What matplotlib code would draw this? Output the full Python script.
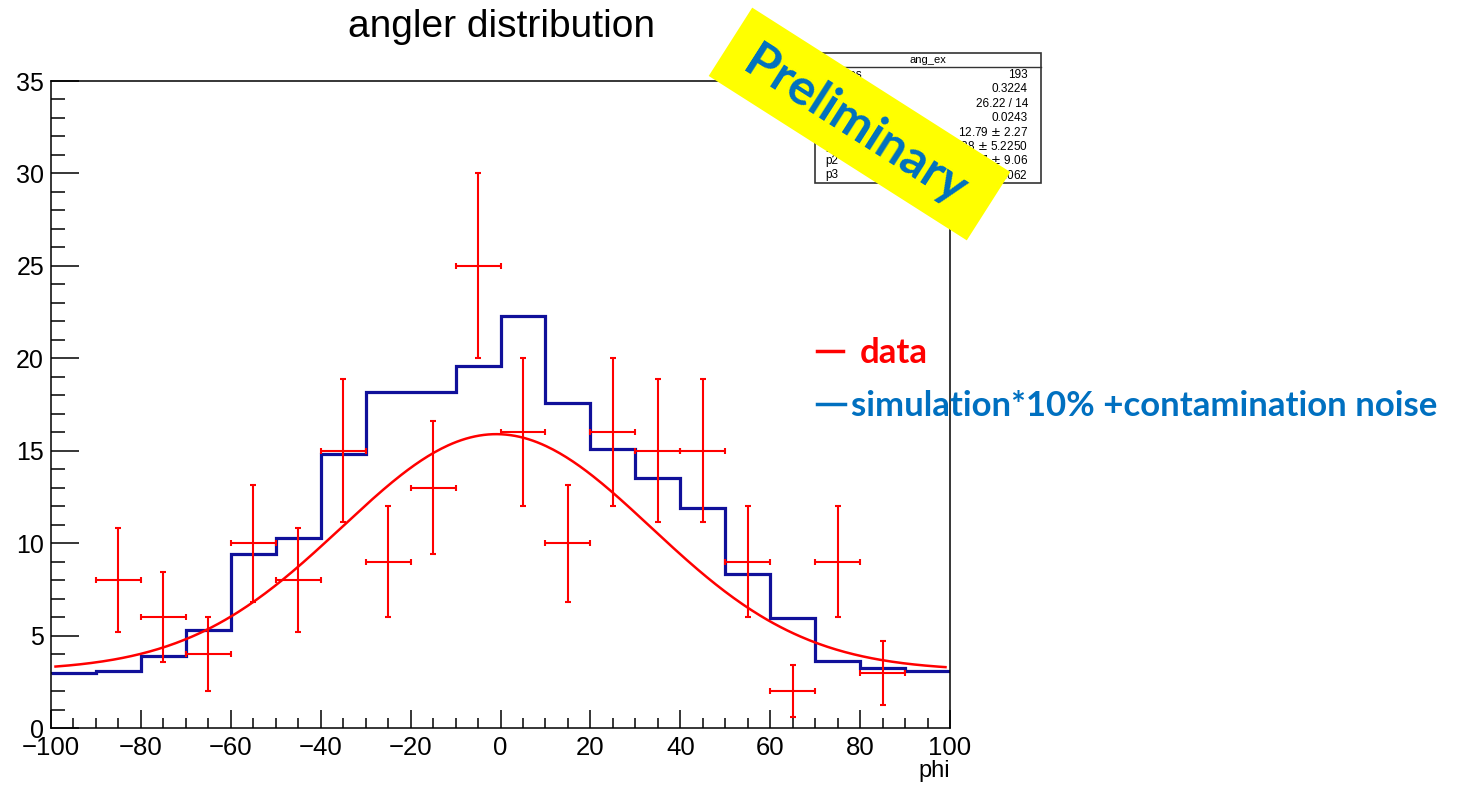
# angler distribution: data points, simulated histogram and gaus+const fit
import numpy as np
import matplotlib as mpl
import matplotlib.pyplot as plt
from matplotlib.patches import Rectangle
from matplotlib.lines import Line2D
import matplotlib.transforms as mtransforms

mpl.rcParams["font.family"] = ["Liberation Sans", "DejaVu Sans"]

# Measured counts per 10-degree bin (bins -90..-80 through 80..90)
data_x = [-85, -75, -65, -55, -45, -35, -25, -15, -5,
          5, 15, 25, 35, 45, 55, 65, 75, 85]
data_y = [8, 6, 4, 10, 8, 15, 9, 13, 25,
          16, 10, 16, 15, 15, 9, 2, 9, 3]
data_yerr = [2.83, 2.45, 2.0, 3.16, 2.83, 3.87, 3.0, 3.61, 5.0,
             4.0, 3.16, 4.0, 3.87, 3.87, 3.0, 1.41, 3.0, 1.73]
data_xerr = 5

# Simulation*10% + contamination noise, bin edges -100..100 step 10
sim_edges = [-100, -90, -80, -70, -60, -50, -40, -30, -20, -10, 0,
             10, 20, 30, 40, 50, 60, 70, 80, 90, 100]
sim_vals = [3.0, 3.1, 3.9, 5.3, 9.4, 10.3, 14.8, 18.2, 18.2, 19.6,
            22.3, 17.6, 15.1, 13.5, 11.9, 8.35, 5.95, 3.6, 3.25, 3.1]

# Fit parameters (gaus + pol0)
p0, p1, p2, p3 = 12.79, -0.9338, 34.37, 3.106
fit_range = (-99, 99)

stat_labels = ["Entries", "Mean", r"$\chi^2$ / ndf", "Prob", "p0", "p1", "p2", "p3"]
stat_values = ["193", "0.3224", "26.22 / 14", "0.0243",
               "12.79 $\\pm$ 2.27", "$-$0.9338 $\\pm$ 5.2250",
               "34.37 $\\pm$ 9.06", "3.106 $\\pm$ 1.062"]

RED = "#ff0000"
NAVY = "#10109a"
OFFICE_BLUE = "#0070c0"
W, H = 1460, 785

fig = plt.figure(figsize=(W / 100, H / 100), dpi=100)
ax = fig.add_axes([51 / W, 1 - 728 / H, 899 / W, 647 / H])

# Simulation histogram as a step outline
ax.stairs(sim_vals, sim_edges, color=NAVY, linewidth=2.3, baseline=None, zorder=2)

# Fit curve
xf = np.linspace(fit_range[0], fit_range[1], 400)
yf = p0 * np.exp(-0.5 * ((xf - p1) / p2) ** 2) + p3
ax.plot(xf, yf, color=RED, linewidth=1.8, zorder=3)

# Data with error bars
ax.errorbar(data_x, data_y, xerr=data_xerr, yerr=data_yerr, fmt="none",
            ecolor=RED, elinewidth=1.5, capsize=2.5, capthick=1.5, zorder=4)

ax.set_xlim(-100, 100)
ax.set_ylim(0, 35)
ax.set_xticks(np.arange(-100, 101, 20))
ax.set_xticks(np.arange(-100, 101, 5), minor=True)
ax.set_yticks(np.arange(0, 36, 5))
ax.set_yticks(np.arange(0, 36, 1), minor=True)
ax.tick_params(axis="x", which="major", direction="in", length=13, width=1.1,
               labelsize=18.5, pad=6)
ax.tick_params(axis="x", which="minor", direction="in", length=7, width=1.1)
ax.tick_params(axis="y", which="major", direction="in", length=20, width=1.1,
               labelsize=18, pad=5)
ax.tick_params(axis="y", which="minor", direction="in", length=10, width=1.1)
for s in ax.spines.values():
    s.set_linewidth(1.1)

ax.text(1.0, -0.05, "phi", transform=ax.transAxes, ha="right", va="top",
        fontsize=17)

fig.text(501 / W, 1 - 37 / H, "angler distribution", ha="center",
         va="baseline", fontsize=28)

# Stats box
bx0, by0, bx1, by1 = 815, 53, 1041, 183
fig.add_artist(Rectangle((bx0 / W, 1 - by1 / H), (bx1 - bx0) / W,
                         (by1 - by0) / H, transform=fig.transFigure,
                         facecolor="white", edgecolor="#333333", linewidth=1.2,
                         zorder=5))
fig.add_artist(Line2D([bx0 / W, bx1 / W], [1 - 67 / H, 1 - 67 / H],
                      transform=fig.transFigure, color="#333333",
                      linewidth=1.0, zorder=6))
fig.text((bx0 + bx1) / 2 / W, 1 - 60 / H, "ang_ex", ha="center",
         va="center", fontsize=8, zorder=6)
for i, (lab, val) in enumerate(zip(stat_labels, stat_values)):
    yy = 1 - (75 + i * 14.3) / H
    fig.text(825 / W, yy, lab, ha="left", va="center", fontsize=8.5, zorder=6)
    fig.text(1028 / W, yy, val, ha="right", va="center", fontsize=8.5, zorder=6)

# Legend drawn as coloured dashes and text
fig.add_artist(Line2D([817 / W, 843 / W], [1 - 351 / H] * 2,
                      transform=fig.transFigure, color=RED, linewidth=2.5))
fig.text(860 / W, 1 - 353 / H, "data", color=RED, fontsize=25,
         fontweight="bold", family="Lato", ha="left", va="center")
fig.add_artist(Line2D([817 / W, 845 / W], [1 - 404 / H] * 2,
                      transform=fig.transFigure, color=OFFICE_BLUE, linewidth=2.5))
fig.text(851 / W, 1 - 406 / H, "simulation*10% +contamination noise",
         color=OFFICE_BLUE, fontsize=25, fontweight="bold", family="Lato",
         ha="left", va="center")

# Rotated yellow banner over the stats box
angle = -32.5
cx, cy = 859.5, 124
bw, bh = 306, 81
rot = mtransforms.Affine2D().rotate_deg_around(cx, H - cy, angle).scale(1 / W, 1 / H)
fig.add_artist(Rectangle((cx - bw / 2, H - cy - bh / 2), bw, bh,
                         facecolor="#ffff00", edgecolor="none",
                         transform=rot + fig.transFigure, zorder=10))
fig.text((cx - 4) / W, 1 - (cy + 2) / H, "Preliminary", color=OFFICE_BLUE,
         fontsize=36, fontweight="bold", family="Lato", rotation=angle,
         rotation_mode="anchor", ha="center", va="center", zorder=11)

fig.savefig("out.png", dpi=100)
